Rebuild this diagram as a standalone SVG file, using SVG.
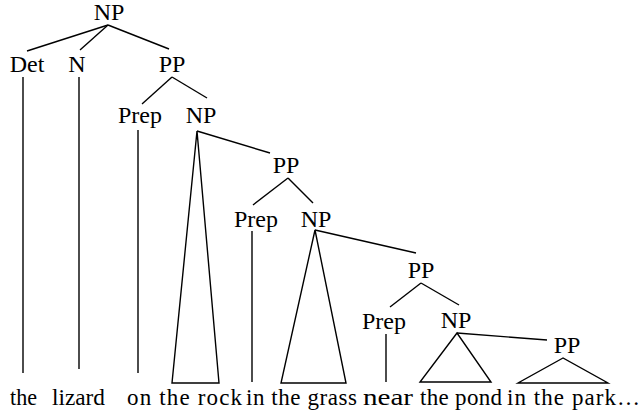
<svg xmlns="http://www.w3.org/2000/svg" width="642" height="414" viewBox="0 0 642 414">
<style>
text{font-family:Liberation Serif,DejaVu Serif,Times New Roman,serif}
.lbl{font-size:24px;fill:#000;text-anchor:middle}
.wd{font-size:23px;fill:#000}
.ln{stroke:#000;stroke-width:1.4;fill:none}
</style>
<rect width="642" height="414" fill="#fff"/>
<g id="connectors" class="ln">
<line x1="108" y1="25" x2="27" y2="51"/>
<line x1="108" y1="25" x2="80" y2="50"/>
<line x1="108" y1="25" x2="169" y2="49"/>
<line x1="23" y1="77" x2="23" y2="373"/>
<line x1="79" y1="77" x2="79" y2="369"/>
<line x1="172" y1="77" x2="142" y2="104"/>
<line x1="172" y1="77" x2="207" y2="98"/>
<line x1="138" y1="130" x2="138" y2="373"/>
<polygon points="197,131 172,383 219,383"/>
<line x1="197" y1="131" x2="270" y2="153"/>
<line x1="288" y1="178" x2="253" y2="205"/>
<line x1="288" y1="178" x2="313" y2="203"/>
<line x1="252" y1="231" x2="252" y2="382"/>
<polygon points="315,230 281,383 346,383"/>
<line x1="315" y1="230" x2="416" y2="253"/>
<line x1="421" y1="283" x2="390" y2="307"/>
<line x1="421" y1="283" x2="459" y2="305"/>
<line x1="386" y1="334" x2="386" y2="382"/>
<polygon points="457,333 420,382 491,382"/>
<line x1="457" y1="333" x2="547" y2="340"/>
<polygon points="563,358 518,383 608,383"/>
</g>
<g id="np0"><text class="lbl" x="109" y="20" font-family="Liberation Serif">NP</text></g>
<g id="det"><text class="lbl" x="27" y="72">Det</text></g>
<g id="n"><text class="lbl" x="77" y="72">N</text></g>
<g id="pp1"><text class="lbl" x="172" y="72">PP</text></g>
<g id="prep1"><text class="lbl" x="140" y="123">Prep</text></g>
<g id="np1"><text class="lbl" x="201" y="123">NP</text></g>
<g id="pp2"><text class="lbl" x="286" y="173">PP</text></g>
<g id="prep2"><text class="lbl" x="256" y="227">Prep</text></g>
<g id="np2"><text class="lbl" x="316" y="227">NP</text></g>
<g id="pp3"><text class="lbl" x="421" y="278">PP</text></g>
<g id="prep3"><text class="lbl" x="384" y="329">Prep</text></g>
<g id="np3"><text class="lbl" x="456" y="328">NP</text></g>
<g id="pp4"><text class="lbl" x="567" y="353">PP</text></g>
<g id="words">
<text class="wd" x="10" y="405" textLength="27" lengthAdjust="spacingAndGlyphs">the</text>
<text class="wd" x="52" y="405" textLength="53" lengthAdjust="spacingAndGlyphs">lizard</text>
<text class="wd" x="127" y="405" textLength="115">on the rock</text>
<text class="wd" x="246" y="405" textLength="111">in the grass</text>
<text class="wd" x="363" y="405" textLength="50" lengthAdjust="spacingAndGlyphs">near</text>
<text class="wd" x="420" y="405" textLength="82">the pond</text>
<text class="wd" x="507" y="405" textLength="133">in the park…</text>
</g>
</svg>
